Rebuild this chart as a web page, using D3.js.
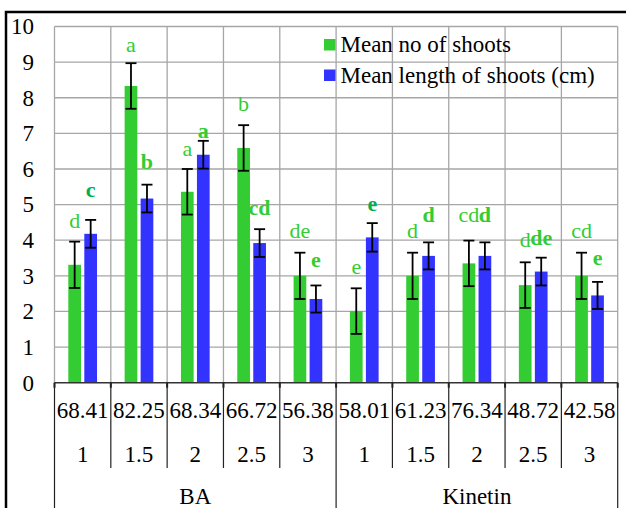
<!DOCTYPE html>
<html>
<head>
<meta charset="utf-8">
<script src="https://cdn.jsdelivr.net/npm/d3@7"></script>
<style>
  html body svg#chart text { font-family: "Liberation Serif", "Times New Roman", serif !important; }
</style>
</head>
<body style="margin:0">
<svg id="chart" width="626" height="508"></svg>
<script>
// data
var groups = ["BA", "Kinetin"];
var concs = ["1", "1.5", "2", "2.5", "3", "1", "1.5", "2", "2.5", "3"];
var groupOf = [0, 0, 0, 0, 0, 1, 1, 1, 1, 1];
var response = ["68.41", "82.25", "68.34", "66.72", "56.38", "58.01", "61.23", "76.34", "48.72", "42.58"];
var yTicks = [0, 1, 2, 3, 4, 5, 6, 7, 8, 9, 10];

var shoots = [3.31, 8.33, 5.36, 6.59, 3.00, 2.01, 3.00, 3.35, 2.74, 3.00];
var shootsErr = [0.65, 0.64, 0.64, 0.64, 0.65, 0.64, 0.65, 0.64, 0.64, 0.65];
var lengths = [4.18, 5.17, 6.40, 3.92, 2.35, 4.08, 3.56, 3.56, 3.12, 2.45];
var lengthsErr = [0.39, 0.39, 0.39, 0.39, 0.38, 0.40, 0.38, 0.38, 0.39, 0.38];

var shootsLetters = ["d", "a", "a", "b", "de", "e", "d", "cd", "d", "cd"];
var lengthsLetters = ["c", "b", "a", "cd", "e", "e", "d", "d", "de", "e"];

var seriesNames = ["Mean no of shoots", "Mean length of shoots (cm)"];

// layout: gap from top of error bar to letter baseline
var shootsGap = [14, 11, 13, 14, 15, 14, 15, 19, 15, 15];
var lengthsGap = [23, 16, 3, 14, 18, 12, 20, 20, 13, 17];
var darkLetter = [true, false, false, false, false, true, false, false, false, false];

var svg = d3.select("#chart");
var plotLeft = 54.5, plotRight = 617.7, plotTop = 26.5, plotBottom = 382.7;
var green = "#33cc33", blue = "#3333ff";

function serifText(sel){
  return sel.style("font-family", "'Liberation Serif', 'Times New Roman', serif", "important");
}

var x = d3.scaleBand().domain(d3.range(concs.length)).range([plotLeft, plotRight]).padding(0);
var xs = d3.scaleBand().domain([0, 1]).range([0, x.bandwidth()]).paddingInner(0.206).paddingOuter(0.863);
var y = d3.scaleLinear().domain([0, 10]).range([plotBottom, plotTop]);

// outer chart border
svg.append("rect").attr("x", 6).attr("y", 12).attr("width", 700).attr("height", 600)
  .attr("fill", "none").attr("stroke", "#000").attr("stroke-width", 2.5);

// gridlines
svg.append("g").selectAll("line").data(yTicks.slice(1)).join("line")
  .attr("x1", plotLeft).attr("x2", plotRight)
  .attr("y1", function(d){ return y(d); }).attr("y2", function(d){ return y(d); })
  .attr("stroke", "#a6a6a6").attr("stroke-width", 1.3);
svg.append("g").selectAll("line").data(d3.range(concs.length + 1)).join("line")
  .attr("x1", function(i){ return plotLeft + i * x.step(); }).attr("x2", function(i){ return plotLeft + i * x.step(); })
  .attr("y1", y(10)).attr("y2", y(0))
  .attr("stroke", "#a6a6a6").attr("stroke-width", 1.3);

// y labels
svg.append("g").selectAll("text").data(yTicks).join("text")
  .attr("x", 34).attr("y", function(d){ return y(d); })
  .attr("dy", "0.34em").attr("text-anchor", "end")
  .attr("font-size", 23).call(serifText).text(function(d){ return d; });

// bars
var series = [
  { v: shoots, e: shootsErr, color: green, letters: shootsLetters, gap: shootsGap },
  { v: lengths, e: lengthsErr, color: blue, letters: lengthsLetters, gap: lengthsGap }
];

series.forEach(function(s, si){
  svg.append("g").selectAll("rect").data(s.v).join("rect")
    .attr("x", function(d, i){ return x(i) + xs(si); })
    .attr("y", function(d){ return y(d); })
    .attr("width", xs.bandwidth())
    .attr("height", function(d){ return y(0) - y(d); })
    .attr("fill", s.color);
});

series.forEach(function(s, si){
  var g = svg.append("g").attr("stroke", "#000").attr("stroke-width", 1.8);
  s.v.forEach(function(d, i){
    var cx = x(i) + xs(si) + xs.bandwidth() / 2;
    var hi = y(d + s.e[i]), lo = y(d - s.e[i]);
    g.append("line").attr("x1", cx).attr("x2", cx).attr("y1", hi).attr("y2", lo);
    g.append("line").attr("x1", cx - 5.5).attr("x2", cx + 5.5).attr("y1", hi).attr("y2", hi);
    g.append("line").attr("x1", cx - 5.5).attr("x2", cx + 5.5).attr("y1", lo).attr("y2", lo);
  });
  svg.append("g").selectAll("text").data(s.letters).join("text")
    .attr("x", function(d, i){ return x(i) + xs(si) + xs.bandwidth() / 2; })
    .attr("y", function(d, i){ return y(s.v[i] + s.e[i]) - s.gap[i]; })
    .attr("text-anchor", "middle").attr("font-size", 22)
    .attr("font-weight", si == 1 ? "bold" : "normal")
    .call(serifText)
    .attr("fill", function(d, i){ return (si == 1 && darkLetter[i]) ? "#00b050" : green; })
    .text(function(d){ return d; });
});

// category axis
svg.append("line").attr("x1", plotLeft).attr("x2", plotRight).attr("y1", plotBottom).attr("y2", plotBottom)
  .attr("stroke", "#333").attr("stroke-width", 1.5);
var ax = svg.append("g").attr("stroke", "#222").attr("stroke-width", 1.2);
d3.range(concs.length + 1).forEach(function(i){
  var xx = plotLeft + i * x.step();
  var full = (i == 0 || i == concs.length || groupOf[i] != groupOf[i - 1]);
  ax.append("line").attr("x1", xx).attr("x2", xx).attr("y1", plotBottom).attr("y2", full ? 520 : 468);
  ax.append("line").attr("x1", xx).attr("x2", xx).attr("y1", plotBottom).attr("y2", plotBottom + 5).attr("stroke-width", 2);
});

svg.append("g").selectAll("text").data(response).join("text")
  .attr("x", function(d, i){ return x(i) + x.bandwidth() / 2; }).attr("y", 418)
  .attr("text-anchor", "middle").attr("font-size", 23).call(serifText).text(function(d){ return d; });
svg.append("g").selectAll("text").data(concs).join("text")
  .attr("x", function(d, i){ return x(i) + x.bandwidth() / 2; }).attr("y", 461.5)
  .attr("text-anchor", "middle").attr("font-size", 23).call(serifText).text(function(d){ return d; });
svg.append("g").selectAll("text").data(groups).join("text")
  .attr("x", function(d, gi){
    var idx = d3.range(concs.length).filter(function(i){ return groupOf[i] == gi; });
    return (x(idx[0]) + x(idx[idx.length - 1]) + x.bandwidth()) / 2;
  }).attr("y", 504)
  .attr("text-anchor", "middle").attr("font-size", 23).call(serifText).text(function(d){ return d; });

// legend
var leg = svg.append("g").selectAll("g").data(seriesNames).join("g")
  .attr("transform", function(d, i){ return "translate(324," + (39 + i * 30.5) + ")"; });
leg.append("rect").attr("width", 11.5).attr("height", 11.5)
  .attr("fill", function(d, i){ return i == 0 ? green : blue; });
leg.append("text").attr("x", 16.5).attr("y", 13).attr("font-size", 23).call(serifText)
  .text(function(d){ return d; });
</script>
</body>
</html>
